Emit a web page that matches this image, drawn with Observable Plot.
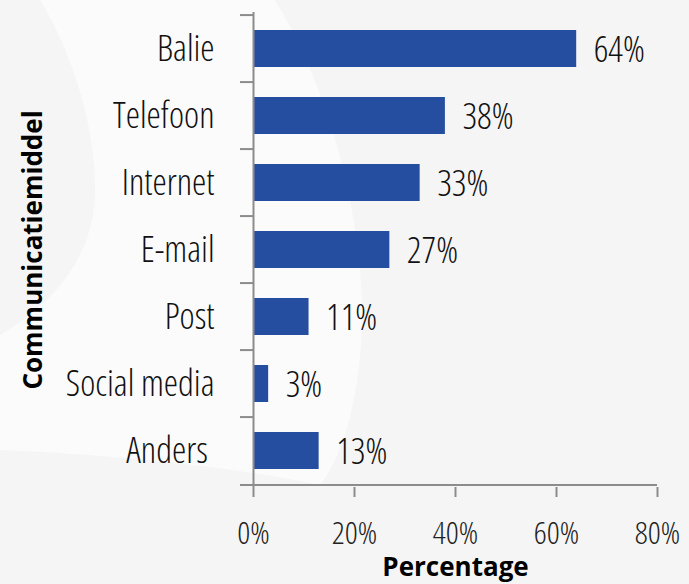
<!DOCTYPE html>
<html><head><meta charset="utf-8">
<script src="https://cdn.jsdelivr.net/npm/d3@7"></script>
<script src="https://cdn.jsdelivr.net/npm/@observablehq/plot@0.6"></script>
<style>
body{margin:0;background:#f5f5f5;}
#chart{position:relative;width:689px;height:584px;overflow:hidden;}
#bg{position:absolute;left:0;top:0;}
#chart svg.plotsvg{position:absolute;left:0;top:0;background:transparent;font-family:"Open Sans";font-stretch:75%;font-weight:300;}
</style></head><body><div id="chart">
<svg id="bg" width="689" height="584"><path d="M40,0 L275,0 C330,90 365,220 362,330 C358,410 340,460 320,485 C240,468 120,455 0,450 L0,335 C60,300 95,250 95,190 C95,120 70,50 40,0 Z" fill="#ffffff" fill-opacity="0.55"/></svg>
</div>
<script>
const categories = ["Balie","Telefoon","Internet","E-mail","Post","Social media","Anders\u00a0"];
const values = [64,38,33,27,11,3,13];
const xTicks = [0,20,40,60,80];
const xTitle = "Percentage";
const yTitle = "Communicatiemiddel";

const data = categories.map((c,i)=>({category:c, value:values[i]}));
const W=689,H=584, mL=253, mR=32, mT=12, mB=97;
const step = (H-mT-mB)/categories.length;
const pxPerUnit = (W-mL-mR)/80;
const tickLen = 13;
const axisColor = "#8c8c8c";

const plot = Plot.plot({
  width: W, height: H,
  marginLeft: mL, marginRight: mR, marginTop: mT, marginBottom: mB,
  style: {background:"transparent", overflow:"visible"},
  x: {domain:[0,80], ticks: xTicks},
  y: {domain: categories, paddingInner: 0.45, paddingOuter: 0.225},
  marks: [
    Plot.barX(data, {x:"value", y:"category", fill:"#264ea0"}),
    Plot.ruleY(categories, {y: d=>d, x1: -tickLen/pxPerUnit, x2: 0, dy: -step/2, stroke: axisColor, strokeWidth: 2}),
    Plot.ruleY([categories[categories.length-1]], {y: d=>d, x1: -tickLen/pxPerUnit, x2: 80, dy: step/2, stroke: axisColor, strokeWidth: 2}),
    Plot.ruleX([0], {stroke: axisColor, strokeWidth: 2}),
    Plot.axisX({ticks: xTicks, tickSize: 10, tickPadding: 24, tickFormat: d=>d+"%", fontSize: 32, stroke: axisColor, strokeWidth: 2, color:"#222", label: null}),
    Plot.axisY({tickSize: 0, tickPadding: 39, fontSize: 36, color:"#111", label: null}),
    Plot.text(data, {x:"value", y:"category", text: d=>d.value+"%", dx: 17, dy: 1, textAnchor:"start", fontSize: 36, fill:"#111"}),
    Plot.text([xTitle], {frameAnchor:"bottom", dy: 80, textAnchor:"middle", lineAnchor:"middle", fontSize: 26, fontWeight: 700, fill:"#000"}),
    Plot.text([yTitle], {frameAnchor:"left", dx: -220, rotate: -90, textAnchor:"middle", lineAnchor:"middle", fontSize: 26, fontWeight: 700, fill:"#000"})
  ]
});
plot.classList.add("plotsvg");
d3.select(plot).selectAll("text")
  .filter(function(){ return this.textContent === xTitle || this.textContent === yTitle; })
  .style("font-stretch", "92%");
document.getElementById("chart").appendChild(plot);
</script>
</body></html>
